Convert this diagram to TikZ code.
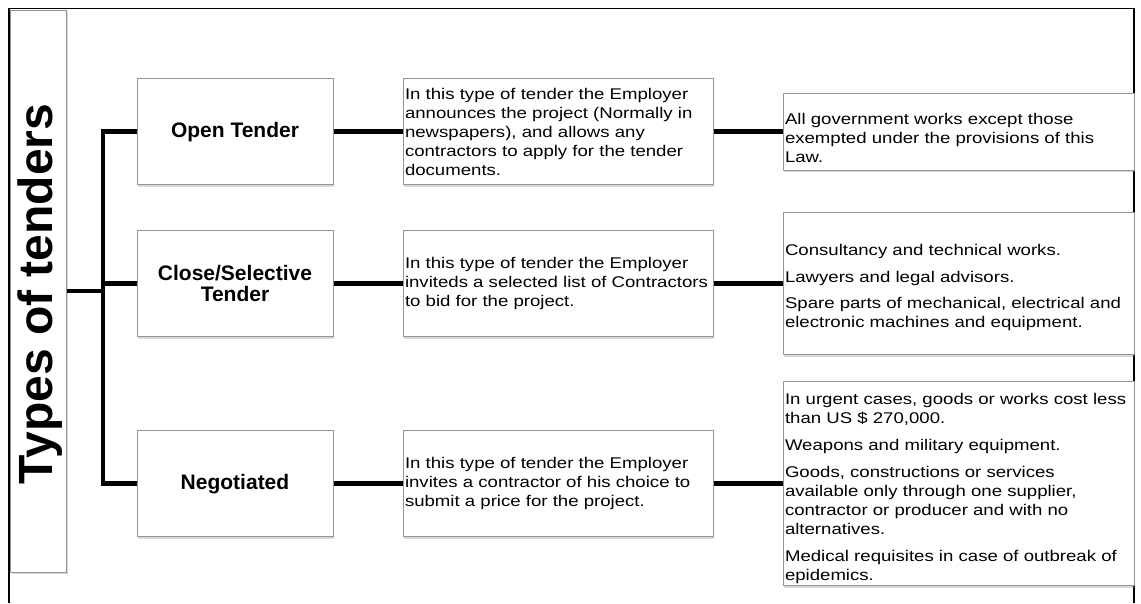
\documentclass[tikz,border=0pt]{standalone}
\usepackage{fontspec}
\setmainfont{Liberation Sans}
\newfontfamily\bodyfont[FakeStretch=1.2]{Liberation Sans}
\usetikzlibrary{shadows}
\newcommand{\tallstrut}[1]{\rule{0pt}{#1}}
\begin{document}
\begin{tikzpicture}[x=1pt,y=-1pt,
  conn/.style={line width=4.5pt},
  tbox/.style={draw=black!42, line width=1pt, fill=white,
    drop shadow={shadow xshift=1.2pt, shadow yshift=-2.2pt, opacity=0.3}},
  catbox/.style={tbox, minimum width=196pt, minimum height=106pt, inner sep=0pt,
    align=center, font=\fontsize{21}{21}\selectfont\bfseries},
  descbox/.style={tbox, text width=306pt, inner xsep=2pt, inner ysep=0pt,
    minimum height=106pt, align=left, font=\bodyfont\fontsize{15.5}{19}\selectfont},
  lawbox/.style={tbox, text width=347pt, inner xsep=2pt, inner ysep=0pt,
    align=left, font=\bodyfont\fontsize{15.5}{19}\selectfont}]
\fill[white] (0,0) rectangle (1141,603);
\useasboundingbox (0,0) rectangle (1141,603);
% outer frame
\draw[line width=1.5pt] (9,603) -- (9,8.5) -- (1134,8.5) -- (1134,603);
% title
\node[tbox, minimum width=56pt, minimum height=562pt, inner sep=0pt] (tbx) at (38.5,291) {};
\node[rotate=90, anchor=base, font=\fontsize{48}{48}\selectfont\bfseries] (title) at (52.5,294) {Types of tenders};
% column 1
\node[catbox] (open) at (235,131.7) {Open Tender};
\node[catbox] (close) at (235,283.5) {Close/Selective\\Tender};
\node[catbox] (neg) at (235,483.7) {Negotiated};
% column 2
\node[descbox] (opend) at (558,131.7) {In this type of tender the Employer\\announces the project (Normally in\\newspapers), and allows any\\contractors to apply for the tender\\documents.};
\node[descbox] (closed) at (558,283.5) {In this type of tender the Employer\\inviteds a selected list of Contractors\\to bid for the project.};
\node[descbox] (negd) at (558,483.7) {In this type of tender the Employer\\invites a contractor of his choice to\\submit a price for the project.};
% column 3
\node[lawbox, minimum height=77pt] (openl) at (958.5,131.7) {\tallstrut{24pt}All government works except those\\exempted under the provisions of this\\Law.};
\node[lawbox, minimum height=142pt] (closel) at (958.5,283.5) {\tallstrut{20pt}Consultancy and technical works.\\[7.5pt]Lawyers and legal advisors.\\[7.5pt]Spare parts of mechanical, electrical and\\electronic machines and equipment.};
\node[lawbox, minimum height=204pt] (negl) at (958.5,483.7) {\tallstrut{21pt}In urgent cases, goods or works cost less\\than US \$ 270,000.\\[8pt]Weapons and military equipment.\\[8pt]Goods, constructions or services\\available only through one supplier,\\contractor or producer and with no\\alternatives.\\[8pt]Medical requisites in case of outbreak of\\epidemics.};
% connectors
\coordinate (tk) at (103,291);
\draw[conn] (tbx.east) -- (tk);
\draw[conn] (open.west) -| (tk) |- (neg.west);
\draw[conn] (close.west) -- (close.west -| tk);
\draw[conn] (open) -- (opend);
\draw[conn] (close) -- (closed);
\draw[conn] (neg) -- (negd);
\draw[conn] (opend) -- (openl);
\draw[conn] (closed) -- (closel);
\draw[conn] (negd) -- (negl);
\end{tikzpicture}
\end{document}
